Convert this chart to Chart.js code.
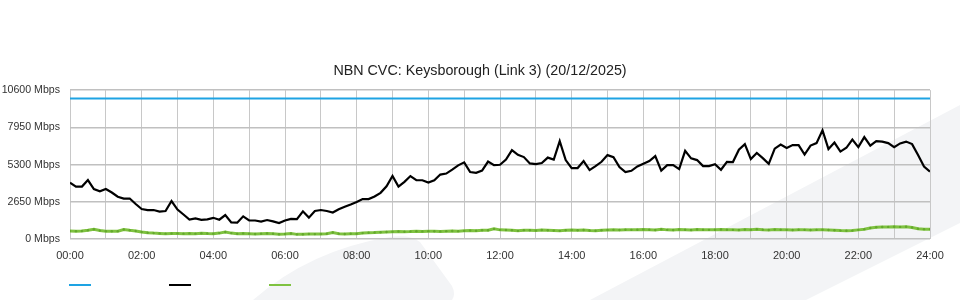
<!DOCTYPE html>
<html>
<head>
<meta charset="utf-8">
<script src="https://cdn.jsdelivr.net/npm/chart.js@4.4.1/dist/chart.umd.min.js"></script>
<style>
html, body { margin: 0; padding: 0; background: #fff; }
#caixa { width: 960px; height: 300px; position: relative; }
</style>
</head>
<body>
<div id="caixa"><canvas id="grafico_cvc"></canvas></div>
<script>
const titulo = 'NBN CVC: Keysborough (Link 3) (20/12/2025)';

// capacity of the link (flat line, start and end of day)
const capacidade_horas = [0, 24];
const capacidade = [10000, 10000];

// traffic, one value every 10 minutes from 00:00 to 24:00 (Mbps)
const passo_minutos = 10;
const download = [
  4005, 3735, 3735, 4197, 3557, 3393, 3557, 3308, 3009, 2881,
  2881, 2490, 2134, 2063, 2063, 1956, 1992, 2703, 2099, 1743,
  1387, 1473, 1366, 1401, 1508, 1373, 1707, 1174, 1160, 1615,
  1330, 1316, 1245, 1352, 1259, 1138, 1316, 1437, 1409, 1971,
  1522, 1992, 2063, 1992, 1885, 2120, 2298, 2454, 2632, 2846,
  2846, 3023, 3287, 3756, 4482, 3728, 4069, 4482, 4197, 4183,
  4019, 4183, 4589, 4660, 4944, 5243, 5456, 4766, 4717, 4873,
  5513, 5264, 5286, 5656, 6331, 5997, 5833, 5385, 5335, 5407,
  5798, 5656, 6972, 5620, 5051, 5051, 5549, 4909, 5193, 5499,
  5976, 5833, 5122, 4766, 4859, 5172, 5364, 5549, 5905, 4873,
  5264, 5264, 4980, 6275, 5741, 5620, 5193, 5193, 5321, 4930,
  5492, 5478, 6360, 6758, 5691, 6132, 5762, 5350, 6438, 6723,
  6488, 6687, 6687, 6011, 6652, 6830, 7750, 6403, 6865, 6225,
  6495, 7078, 6545, 7256, 6652, 6972, 6936, 6829, 6545, 6808,
  6936, 6758, 5976, 5158, 4802
];
const upload = [
  570, 560, 570, 620, 690, 600, 560, 550, 560, 680,
  620, 570, 500, 450, 420, 400, 380, 390, 400, 380,
  400, 380, 410, 390, 380, 420, 500, 420, 370, 400,
  380, 360, 380, 400, 370, 340, 360, 390, 330, 340,
  360, 350, 360, 370, 460, 380, 360, 370, 370, 420,
  450, 460, 480, 500, 520, 530, 520, 530, 550, 540,
  560, 550, 540, 560, 570, 560, 580, 600, 590, 620,
  620, 720, 650, 640, 620, 580, 630, 620, 600, 640,
  620, 600, 580, 620, 640, 620, 640, 610, 590, 620,
  640, 650, 640, 660, 650, 660, 680, 660, 640, 690,
  650, 640, 680, 660, 640, 680, 660, 650, 660, 680,
  660, 650, 640, 670, 660, 690, 660, 640, 670, 660,
  650, 640, 660, 650, 640, 650, 660, 640, 620, 600,
  590, 600, 650, 700, 780, 840, 850, 860, 870, 860,
  870, 820, 730, 700, 700
];

const ticks_y = [0, 2650, 5300, 7950, 10600];
const max_horas = 24;

const cor_capacidade = '#1ea3e3';
const cor_download = '#000000';
const cor_upload = '#7fc241';

function pontos(valores) {
  return valores.map((v, i) => ({ x: i * passo_minutos / 60, y: v }));
}

function hora(v) {
  return (v < 10 ? '0' : '') + v + ':00';
}

// faint logo shapes behind the plot
const marca_dagua = {
  id: 'marca_dagua',
  beforeDraw(chart) {
    const ctx = chart.ctx;
    ctx.save();
    ctx.fillStyle = '#f3f4f6';
    ctx.beginPath();
    ctx.moveTo(253, 300);
    ctx.quadraticCurveTo(310, 250, 390, 237);
    ctx.quadraticCurveTo(410, 234, 420, 242);
    ctx.lineTo(452, 286);
    ctx.quadraticCurveTo(456, 294, 452, 300);
    ctx.closePath();
    ctx.fill();
    ctx.beginPath();
    ctx.moveTo(590, 300);
    ctx.lineTo(960, 105);
    ctx.lineTo(960, 223);
    ctx.lineTo(806, 300);
    ctx.closePath();
    ctx.fill();
    ctx.restore();
  }
};

// legend swatches without text
const legenda = {
  id: 'legenda',
  afterDraw(chart) {
    const ctx = chart.ctx;
    chart.data.datasets.forEach((ds, i) => {
      ctx.fillStyle = ds.borderColor;
      ctx.fillRect(69 + i * 100, 284, 22, 2);
    });
  }
};

const grafico = document.querySelector('#grafico_cvc');

new Chart(grafico, {
  type: 'line',
  data: {
    datasets: [{
      label: 'Capacity',
      data: capacidade_horas.map((h, i) => ({ x: h, y: capacidade[i] })),
      borderColor: cor_capacidade,
      borderWidth: 2,
      pointRadius: 0
    }, {
      label: 'Download',
      data: pontos(download),
      borderColor: cor_download,
      borderWidth: 2.2,
      pointRadius: 0
    }, {
      label: 'Upload',
      data: pontos(upload),
      borderColor: cor_upload,
      borderWidth: 3,
      pointRadius: 1.2,
      pointBorderWidth: 0,
      pointBackgroundColor: '#63a82c'
    }]
  },
  options: {
    responsive: true,
    maintainAspectRatio: false,
    animation: false,
    layout: { padding: { left: 0, right: 0, top: 0, bottom: 31 } },
    plugins: {
      legend: { display: false },
      tooltip: { enabled: false },
      title: {
        display: true,
        text: titulo,
        color: '#222',
        font: { family: 'Liberation Sans', size: 14.3, weight: 'normal' },
        padding: { top: 62, bottom: 11 }
      }
    },
    scales: {
      x: {
        type: 'linear',
        min: 0,
        max: max_horas,
        ticks: {
          stepSize: 1,
          autoSkip: false,
          maxRotation: 0,
          padding: 10,
          color: '#333',
          font: { family: 'Liberation Sans', size: 11 },
          callback: (v) => (v % 2 === 0 ? hora(v) : '')
        },
        grid: { color: '#c8c8c8', lineWidth: 1, drawTicks: false },
        border: { display: false },
        afterFit: (s) => { s.height = 30; }
      },
      y: {
        min: 0,
        max: 10600,
        afterBuildTicks: (s) => { s.ticks = ticks_y.map(v => ({ value: v })); },
        ticks: {
          padding: 10,
          color: '#333',
          font: { family: 'Liberation Sans', size: 10.6 },
          callback: (v) => v + ' Mbps'
        },
        grid: { color: '#c0c0c0', lineWidth: 1.5, drawTicks: false },
        border: { display: false },
        afterFit: (s) => { s.width = 70; }
      },
      // empty right margin so the title stays centred on the page
      margem: {
        position: 'right',
        min: 0,
        max: 10600,
        ticks: { display: false },
        grid: { display: false },
        border: { display: false },
        afterFit: (s) => { s.width = 30; }
      }
    }
  },
  plugins: [marca_dagua, legenda]
});
</script>
</body>
</html>
